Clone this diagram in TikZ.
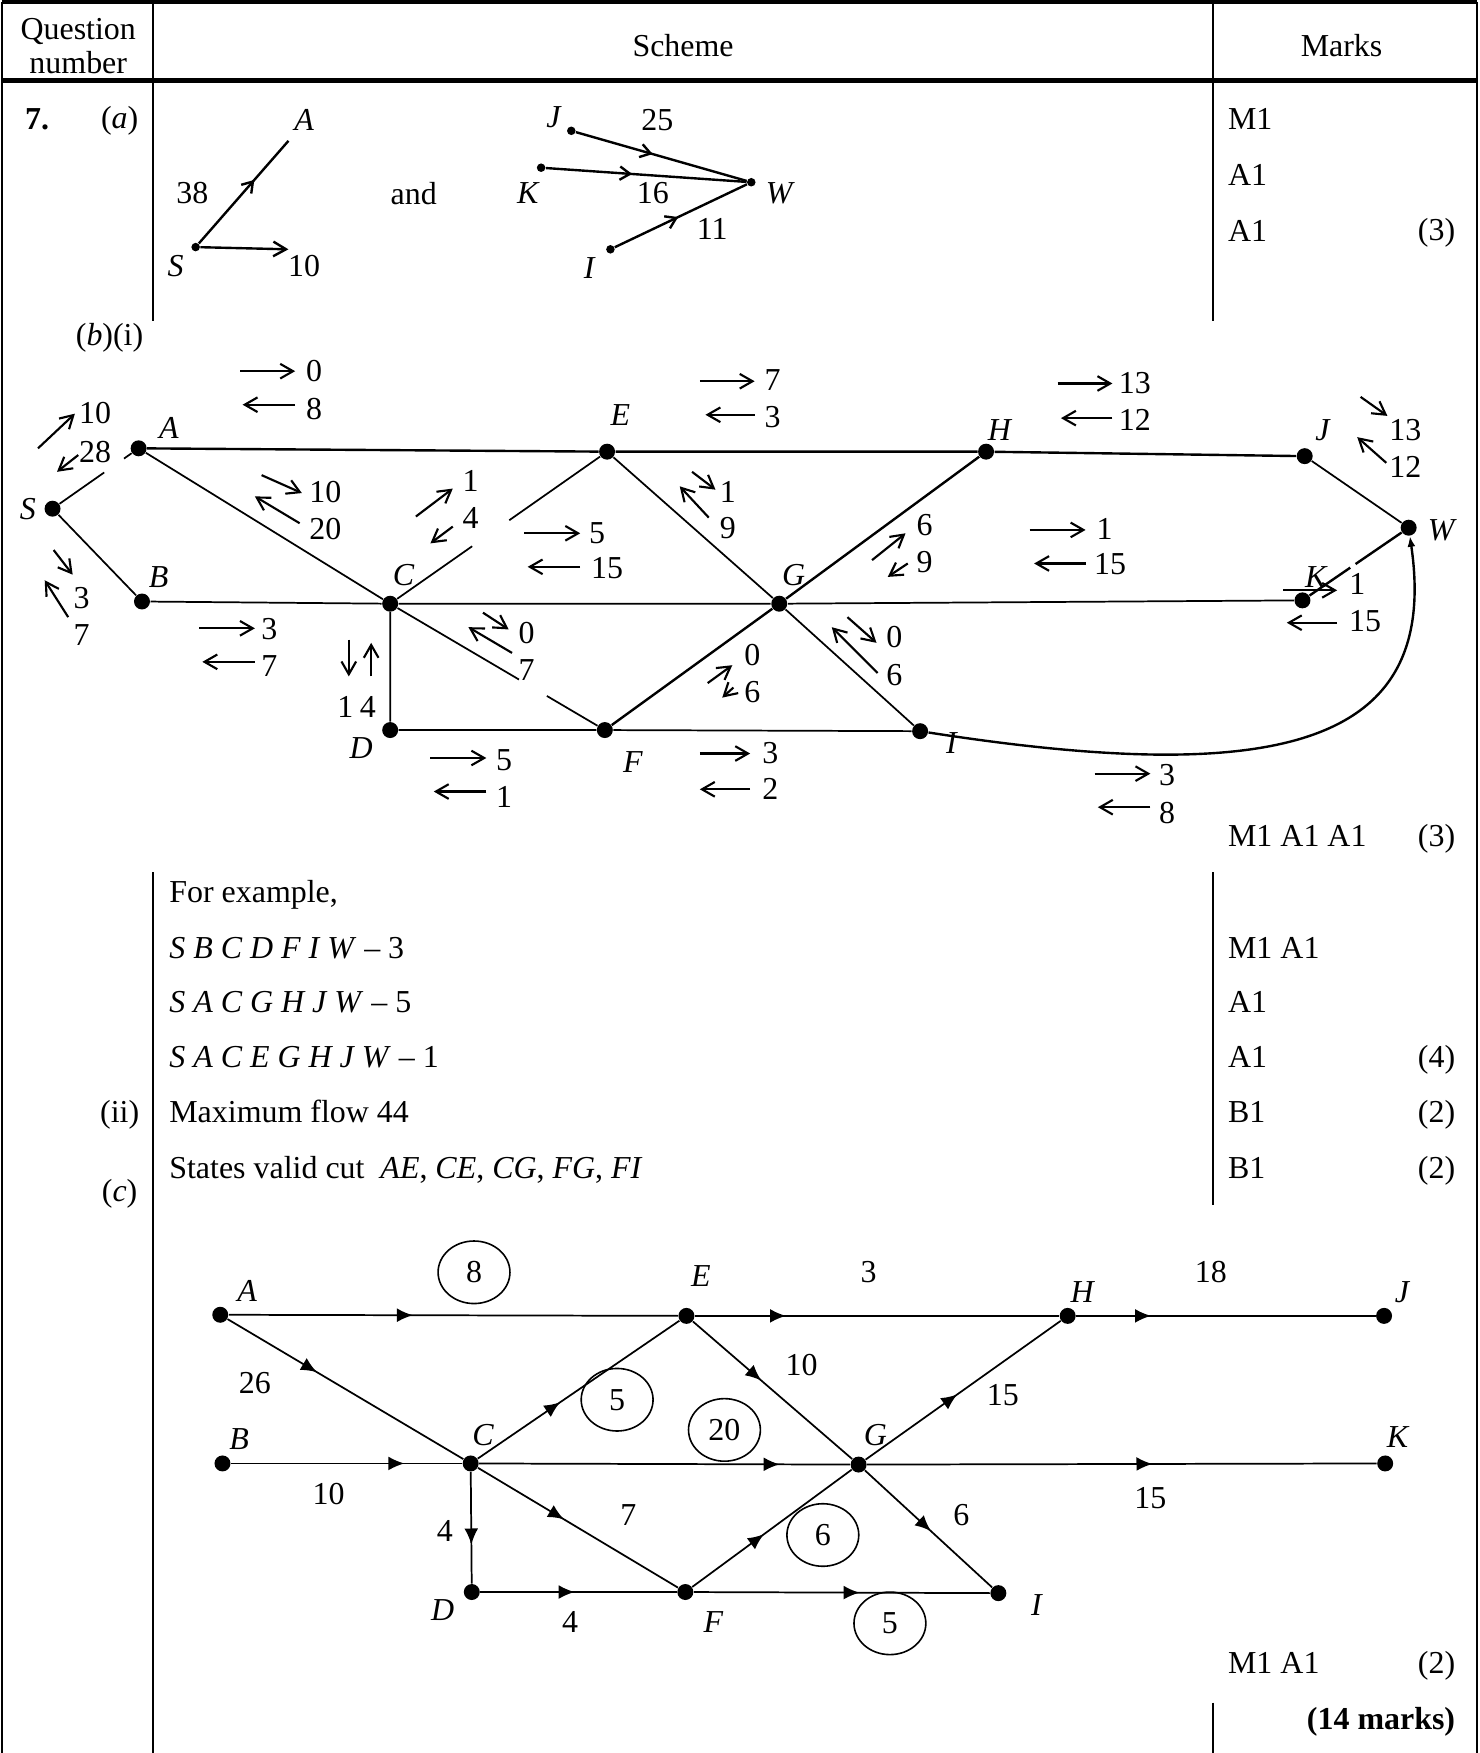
\documentclass[tikz,border=0pt]{standalone}
\usepackage{fontspec}
\setmainfont{Liberation Serif}
\usetikzlibrary{arrows.meta,decorations.markings,shapes.geometric,calc}
\newcommand\myfs{\fontsize{12}{13}\selectfont}
\begin{document}
\begin{tikzpicture}[x=0.42pt,y=-0.42pt, font=\myfs,
  tthin/.style={line width=0.7pt},
  tthick/.style={line width=1.6pt},
  ebl/.style={line width=0.65pt},
  etop/.style={line width=0.9pt},
  ea/.style={line width=0.9pt},
  dotb/.style={circle,fill=black,inner sep=0pt,minimum size=6pt},
  dota/.style={circle,fill=black,inner sep=0pt,minimum size=3.2pt},
  lab/.style={font=\myfs\itshape,inner sep=0pt},
  num/.style={font=\myfs,inner sep=0pt},
  txt/.style={font=\myfs,anchor=base west,inner sep=0pt},
  flowarr/.style={line width=0.8pt,-{Straight Barb[length=4.8pt,width=5.5pt]}},
  aarr/.style={postaction={decorate,decoration={markings,mark=at position #1 with {\arrow{Straight Barb[length=3.8pt,width=5pt]}}}}},
  carr/.style={postaction={decorate,decoration={markings,mark=at position #1 with {\arrow{Latex[length=6pt,width=5.2pt]}}}}},
  ellnum/.style={ellipse,draw,line width=0.6pt,minimum width=27pt,minimum height=23.5pt,inner sep=0pt,font=\myfs}
]
\useasboundingbox (0,0) rectangle (1323,1568);
% ---------------- table ----------------
\draw[tthick] (2,2) -- (1321,2);
\draw[tthick] (2,72) -- (1321,72);
\draw[tthin] (2,2) -- (2,1568);
\draw[tthin] (1321,2) -- (1321,1568);
\draw[tthin] (137,2) -- (137,287);
\draw[tthin] (1085,2) -- (1085,287);
\draw[tthin] (137,780) -- (137,1568);
\draw[tthin] (1085,780) -- (1085,1078);
\draw[tthin] (1085,1523) -- (1085,1568);
\node[num,anchor=base] (hq1) at (70,35) {Question};
\node[num,anchor=base] (hq2) at (70,66) {number};
\node[num] (hs) at (611,41) {Scheme};
\node[num] (hm) at (1200,41) {Marks};
% ---------------- (a) ----------------
\node[txt,font=\myfs\bfseries] (q7) at (22,116) {7.};
\node[num] (pa) at (107,108) {(\textit{a})};
\node[txt] (ma1) at (1098,116) {M1};
\node[txt] (ma2) at (1098,166) {A1};
\node[txt] (ma3) at (1098,216) {A1};
\node[num] (ma4) at (1285,208) {(3)};
\node[dota] (aS) at (175,221) {};
\coordinate (aAe) at (258,126);
\coordinate (a10e) at (258,223);
\draw[ea,aarr=0.62] (aS) -- (aAe);
\draw[ea,-{Straight Barb[length=4.8pt,width=5.5pt]}] (aS) -- (a10e);
\node[lab] (aAl) at (272,107) {A};
\node[num] (a38) at (172,173) {38};
\node[lab] (aSl) at (157,238) {S};
\node[num] (a10) at (272,238) {10};
\node[num] (aand) at (370,173) {and};
\node[dota] (aJ) at (511,117) {};
\node[dota] (aK) at (484,150) {};
\node[dota] (aW) at (672,163) {};
\node[dota] (aI) at (546,223) {};
\draw[ea,aarr=0.45] (aJ) -- (aW);
\draw[ea,aarr=0.43] (aK) -- (aW);
\draw[ea,aarr=0.48] (aI) -- (aW);
\node[lab] (aJl) at (495,105) {J};
\node[num] (a25) at (588,107) {25};
\node[lab] (aKl) at (472,173) {K};
\node[num] (a16) at (584,173) {16};
\node[lab] (aWl) at (697,173) {W};
\node[num] (a11) at (637,205) {11};
\node[lab] (aIl) at (527,240) {I};
% ---------------- (b)(i) ----------------
\node[num] (pbi) at (98,302) {(\textit{b})(i)};
\node[dotb] (bS) at (47,455) {};
\node[dotb] (bA) at (124,401) {};
\node[dotb] (bB) at (127,538) {};
\node[dotb] (bC) at (349,540) {};
\node[dotb] (bD) at (349,653) {};
\node[dotb] (bE) at (543,404) {};
\node[dotb] (bF) at (541,653) {};
\node[dotb] (bG) at (697,540) {};
\node[dotb] (bH) at (882,404) {};
\node[dotb] (bI) at (823,654) {};
\node[dotb] (bJ) at (1167,408) {};
\node[dotb] (bK) at (1165,537) {};
\node[dotb] (bW) at (1260,472) {};
\node[lab] (bSl) at (25,455) {S};
\node[lab] (bAl) at (151,383) {A};
\node[lab] (bBl) at (142,516) {B};
\node[lab] (bCl) at (361,514) {C};
\node[lab] (bDl) at (323,669) {D};
\node[lab] (bEl) at (555,371) {E};
\node[lab] (bFl) at (566,682) {F};
\node[lab] (bGl) at (710,514) {G};
\node[lab] (bHl) at (894,385) {H};
\node[lab] (bIl) at (851,665) {I};
\node[lab] (bJl) at (1183,385) {J};
\node[lab] (bKl) at (1177,516) {K};
\node[lab] (bWl) at (1289,474) {W};
% edges
\draw[ebl] (bS) -- ($(bS)!0.6!(bA)$);
\draw[ebl] ($(bS)!0.83!(bA)$) -- (bA);
\draw[ebl] (bS) -- (bB);
\draw[etop] (bA) -- (bE) -- (bH) -- (bJ);
\draw[ebl] (bA) -- (bC);
\draw[ebl] (bB) -- (bC) -- (bG) -- (bK);
\draw[ebl] (bC) -- ($(bC)!0.378!(bE)$);
\draw[ebl] ($(bC)!0.549!(bE)$) -- (bE);
\draw[ebl] (bC) -- ($(bC)!0.60!(bF)$);
\draw[ebl] ($(bC)!0.73!(bF)$) -- (bF);
\draw[ebl] (bC) -- (bD) -- (bF) -- (bI);
\draw[ebl] (bE) -- (bG);
\draw[etop] (bF) -- (bG) -- (bH);
\draw[ebl] (bG) -- (bI);
\draw[ebl] (bJ) -- (bW);
\draw[etop] (bK) -- ($(bK)!0.45!(bW)$);
\draw[etop] ($(bK)!0.5!(bW)$) -- (bW);
\draw[etop,-{Latex[length=4pt,width=3pt]}] (bI) .. controls (1150,705) and (1288,665) .. (bW);
% flow labels
\draw[flowarr] (215,332) -- (264,332); \node[num] (f1a) at (281,332) {0};
\draw[flowarr] (264,362) -- (217,362); \node[num] (f1b) at (281,366) {8};
\draw[flowarr] (34,401) -- (67,370); \node[num] (f2a) at (85,369) {10};
\draw[flowarr] (70,407) -- (51,422); \node[num] (f2b) at (85,404) {28};
\draw[flowarr] (48,492) -- (65,514); \draw[flowarr] (61,552) -- (40,519);
\node[num] (f3a) at (73,535) {3}; \node[num] (f3b) at (73,568) {7};
\draw[flowarr] (234,425) -- (270,441); \node[num] (f4a) at (291,440) {10};
\draw[flowarr] (268,468) -- (228,444); \node[num] (f4b) at (291,473) {20};
\draw[flowarr] (372,462) -- (405,437); \node[num] (f5a) at (421,430) {1};
\draw[flowarr] (405,471) -- (385,486); \node[num] (f5b) at (421,463) {4};
\draw[flowarr] (469,477) -- (519,477); \node[num] (f6a) at (534,477) {5};
\draw[flowarr] (519,507) -- (472,507); \node[num] (f6b) at (543,508) {15};
\draw[flowarr] (626,341) -- (675,341); \node[num] (f7a) at (691,340) {7};
\draw[flowarr] (675,371) -- (631,371); \node[num] (f7b) at (691,373) {3};
\draw[flowarr] (619,422) -- (640,438); \node[num] (f8a) at (651,440) {1};
\draw[flowarr] (634,463) -- (608,435); \node[num] (f8b) at (651,472) {9};
\draw[flowarr] (946,343) -- (995,343); \node[num] (f9a) at (1015,343) {13};
\draw[flowarr] (995,374) -- (949,374); \node[num] (f9b) at (1015,376) {12};
\draw[flowarr] (1217,355) -- (1241,372); \node[num] (f10a) at (1257,385) {13};
\draw[flowarr] (1240,414) -- (1214,391); \node[num] (f10b) at (1257,418) {12};
\draw[flowarr] (780,501) -- (810,477); \node[num] (f11a) at (827,470) {6};
\draw[flowarr] (812,504) -- (794,516); \node[num] (f11b) at (827,503) {9};
\draw[flowarr] (921,474) -- (971,474); \node[num] (f12a) at (988,473) {1};
\draw[flowarr] (971,504) -- (925,504); \node[num] (f12b) at (993,505) {15};
\draw[flowarr] (1148,528) -- (1196,528); \node[num] (f13a) at (1214,522) {1};
\draw[flowarr] (1196,557) -- (1151,557); \node[num] (f13b) at (1221,556) {15};
\draw[flowarr] (178,562) -- (228,562); \node[num] (f14a) at (241,563) {3};
\draw[flowarr] (228,592) -- (181,592); \node[num] (f14b) at (241,596) {7};
\draw[flowarr] (312,572) -- (312,605); \draw[flowarr] (332,605) -- (332,575);
\node[num] (f15a) at (309,632) {1}; \node[num] (f15b) at (329,632) {4};
\draw[flowarr] (432,548) -- (455,563); \node[num] (f16a) at (471,566) {0};
\draw[flowarr] (458,584) -- (419,561); \node[num] (f16b) at (471,599) {7};
\draw[flowarr] (385,678) -- (435,678); \node[num] (f17a) at (451,680) {5};
\draw[flowarr] (435,708) -- (388,708); \node[num] (f17b) at (451,713) {1};
\draw[flowarr] (633,611) -- (655,595); \node[num] (f18a) at (673,586) {0};
\draw[flowarr] (656,615) -- (646,624); \node[num] (f18b) at (673,619) {6};
\draw[flowarr] (758,552) -- (784,575); \node[num] (f19a) at (800,570) {0};
\draw[flowarr] (785,602) -- (744,561); \node[num] (f19b) at (800,604) {6};
\draw[flowarr] (626,674) -- (671,674); \node[num] (f20a) at (689,674) {3};
\draw[flowarr] (671,706) -- (626,706); \node[num] (f20b) at (689,706) {2};
\draw[flowarr] (979,692) -- (1029,692); \node[num] (f21a) at (1044,693) {3};
\draw[flowarr] (1029,722) -- (982,722); \node[num] (f21b) at (1044,727) {8};
\node[txt] (mb1) at (1098,757) {M1 A1 A1};
\node[num] (mb2) at (1285,750) {(3)};
% ---------------- text section ----------------
\node[txt] (t1) at (151,807) {For example,};
\node[txt] (t2) at (151,857) {\textit{S B C D F I W} – 3};
\node[txt] (t3) at (151,906) {\textit{S A C G H J W} – 5};
\node[txt] (t4) at (151,955) {\textit{S A C E G H J W} – 1};
\node[num] (tii) at (107,997) {(ii)};
\node[txt] (t5) at (151,1004) {Maximum flow 44};
\node[txt] (t6) at (151,1054) {States valid cut\enspace\textit{AE}, \textit{CE}, \textit{CG}, \textit{FG}, \textit{FI}};
\node[txt] (m1) at (1098,857) {M1 A1};
\node[txt] (m2) at (1098,906) {A1};
\node[txt] (m3) at (1098,955) {A1};
\node[num] (m3b) at (1285,948) {(4)};
\node[txt] (m4) at (1098,1004) {B1};
\node[num] (m4b) at (1285,997) {(2)};
\node[txt] (m5) at (1098,1054) {B1};
\node[num] (m5b) at (1285,1047) {(2)};
% ---------------- (c) ----------------
\node[num] (pc) at (107,1068) {(\textit{c})};
\node[dotb] (cA) at (197,1176) {};
\node[dotb] (cB) at (199,1309) {};
\node[dotb] (cC) at (421,1309) {};
\node[dotb] (cD) at (422,1424) {};
\node[dotb] (cE) at (614,1177) {};
\node[dotb] (cF) at (613,1424) {};
\node[dotb] (cG) at (768,1310) {};
\node[dotb] (cH) at (955,1177) {};
\node[dotb] (cI) at (893,1425) {};
\node[dotb] (cJ) at (1238,1177) {};
\node[dotb] (cK) at (1239,1309) {};
\node[lab] (cAl) at (221,1155) {A};
\node[lab] (cBl) at (214,1287) {B};
\node[lab] (cCl) at (432,1284) {C};
\node[lab] (cDl) at (396,1440) {D};
\node[lab] (cEl) at (627,1141) {E};
\node[lab] (cFl) at (638,1451) {F};
\node[lab] (cGl) at (783,1284) {G};
\node[lab] (cHl) at (968,1156) {H};
\node[lab] (cIl) at (927,1436) {I};
\node[lab] (cJl) at (1254,1156) {J};
\node[lab] (cKl) at (1250,1285) {K};
\draw[ebl,carr=0.41] (cA) -- (cE);
\draw[ebl,carr=0.38] (cA) -- (cC);
\draw[ebl,carr=0.75] (cB) -- (cC);
\draw[ebl,carr=0.41] (cC) -- (cE);
\draw[ebl,carr=0.81] (cC) -- (cG);
\draw[ebl,carr=0.43] (cC) -- (cF);
\draw[ebl,carr=0.65] (cC) -- (cD);
\draw[ebl,carr=0.48] (cD) -- (cF);
\draw[ebl,carr=0.43] (cE) -- (cG);
\draw[ebl,carr=0.45] (cF) -- (cG);
\draw[ebl,carr=0.25] (cE) -- (cH);
\draw[ebl,carr=0.56] (cF) -- (cI);
\draw[ebl,carr=0.47] (cG) -- (cH);
\draw[ebl,carr=0.52] (cG) -- (cI);
\draw[ebl,carr=0.25] (cH) -- (cJ);
\draw[ebl,carr=0.56] (cG) -- (cK);
\node[ellnum] (e8) at (424,1138) {8};
\node[ellnum] (e5a) at (552,1252) {5};
\node[ellnum] (e20) at (648,1279) {20};
\node[ellnum] (e6) at (736,1373) {6};
\node[ellnum] (e5b) at (796,1452) {5};
\node[num] (c26) at (228,1237) {26};
\node[num] (c10a) at (294,1336) {10};
\node[num] (c7) at (562,1355) {7};
\node[num] (c4a) at (398,1369) {4};
\node[num] (c4b) at (510,1451) {4};
\node[num] (c10b) at (717,1221) {10};
\node[num] (c3) at (777,1138) {3};
\node[num] (c18) at (1083,1138) {18};
\node[num] (c15a) at (897,1248) {15};
\node[num] (c15b) at (1029,1340) {15};
\node[num] (c6) at (860,1355) {6};
\node[txt] (mc1) at (1098,1497) {M1 A1};
\node[num] (mc2) at (1285,1490) {(2)};
\node[num,anchor=base east,font=\myfs\bfseries] (mc3) at (1302,1547) {(14 marks)};
\end{tikzpicture}
\end{document}
